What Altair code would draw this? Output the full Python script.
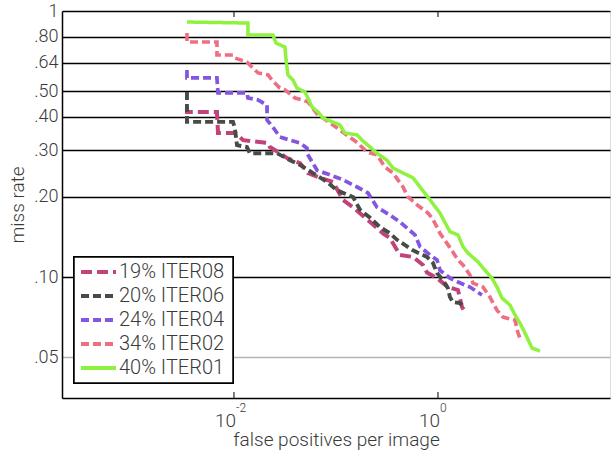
import altair as alt
import pandas as pd

labels = ["19% ITER08", "20% ITER06", "24% ITER04", "34% ITER02", "40% ITER01"]
colors = ["#c2437a", "#474c47", "#8455e0", "#ef6f82", "#8ff23e"]
dashes = [[11, 5], [8, 4], [8, 4], [8, 4], [1, 0]]
widths = [4, 3.5, 3, 3, 3.5]

iter08_fppi = [0.00346, 0.00346, 0.00681, 0.00697, 0.0102, 0.0123, 0.0216, 0.0225, 0.0282, 0.0331,
               0.0444, 0.0531, 0.0697, 0.0935, 0.117, 0.147, 0.180, 0.216, 0.252, 0.289,
               0.338, 0.424, 0.569, 0.713, 0.780, 0.978, 1.25, 1.57, 1.64, 1.72, 1.84]
iter08_miss = [0.436, 0.417, 0.417, 0.348, 0.348, 0.327, 0.319, 0.308, 0.292, 0.280,
               0.268, 0.246, 0.236, 0.228, 0.195, 0.183, 0.171, 0.161, 0.153, 0.146,
               0.140, 0.121, 0.119, 0.111, 0.104, 0.0991, 0.0917, 0.0894, 0.0834, 0.0771, 0.0738]

iter06_fppi = [0.00346, 0.00346, 0.00978, 0.0102, 0.0107, 0.0134, 0.0143, 0.0264, 0.0354, 0.0444,
               0.0595, 0.0816, 0.102, 0.147, 0.172, 0.216, 0.270, 0.338, 0.397, 0.569,
               0.780, 0.893, 0.978, 1.12, 1.25, 1.31, 1.40, 1.64, 1.84]
iter06_miss = [0.496, 0.383, 0.383, 0.363, 0.313, 0.308, 0.292, 0.292, 0.275, 0.264,
               0.246, 0.228, 0.212, 0.200, 0.179, 0.167, 0.154, 0.146, 0.138, 0.126,
               0.119, 0.113, 0.1035, 0.0974, 0.0909, 0.0841, 0.0805, 0.0798, 0.0764]

iter04_fppi = [0.00346, 0.00346, 0.00681, 0.00697, 0.0134, 0.0137, 0.0172, 0.0211, 0.0211, 0.0241,
               0.0282, 0.0354, 0.0444, 0.0520, 0.0520, 0.0652, 0.0874, 0.117, 0.161, 0.206,
               0.252, 0.338, 0.424, 0.595, 0.667, 0.835, 0.978, 1.046, 1.31, 1.57, 2.06, 2.70]
iter04_miss = [0.600, 0.560, 0.560, 0.492, 0.492, 0.471, 0.463, 0.443, 0.389, 0.366,
               0.336, 0.327, 0.319, 0.305, 0.292, 0.252, 0.242, 0.232, 0.218, 0.207,
               0.183, 0.171, 0.161, 0.144, 0.130, 0.121, 0.116, 0.106, 0.0991, 0.0958, 0.0917, 0.0856]

iter02_fppi = [0.00346, 0.00346, 0.00681, 0.00681, 0.00978, 0.0102, 0.0134, 0.0143, 0.0172, 0.0216,
               0.0236, 0.0282, 0.0316, 0.0396, 0.0475, 0.0531, 0.0667, 0.0746, 0.0935, 0.109,
               0.164, 0.201, 0.252, 0.302, 0.362, 0.454, 0.508, 0.622, 0.798, 0.873,
               0.978, 1.046, 1.31, 1.57, 1.76, 2.06, 2.20, 2.76, 3.23, 3.79,
               4.34, 5.69, 6.09, 6.37]
iter02_miss = [0.827, 0.765, 0.765, 0.683, 0.683, 0.666, 0.643, 0.627, 0.585, 0.575,
               0.550, 0.513, 0.505, 0.471, 0.463, 0.455, 0.406, 0.396, 0.373, 0.357,
               0.319, 0.295, 0.288, 0.259, 0.246, 0.218, 0.200, 0.187, 0.174, 0.167,
               0.154, 0.146, 0.129, 0.116, 0.111, 0.1017, 0.0949, 0.0917, 0.0841, 0.0751,
               0.0707, 0.0689, 0.0616, 0.0590]

iter01_fppi = [0.00346, 0.0137, 0.0137, 0.0241, 0.0258, 0.0316, 0.0324, 0.0338, 0.0379, 0.0415,
               0.0497, 0.0531, 0.0582, 0.0667, 0.0746, 0.109, 0.122, 0.161, 0.180, 0.216,
               0.252, 0.316, 0.362, 0.497, 0.569, 0.667, 0.835, 1.046, 1.31, 1.57,
               1.76, 1.97, 2.47, 3.02, 3.38, 3.79, 4.24, 5.08, 5.69, 6.37,
               7.13, 8.35, 10.0]
iter01_miss = [0.909, 0.901, 0.812, 0.812, 0.758, 0.732, 0.654, 0.575, 0.550, 0.513,
               0.496, 0.471, 0.436, 0.417, 0.396, 0.373, 0.348, 0.342, 0.327, 0.308,
               0.292, 0.275, 0.257, 0.242, 0.236, 0.218, 0.195, 0.174, 0.148, 0.144,
               0.130, 0.123, 0.114, 0.104, 0.0991, 0.0917, 0.0834, 0.0785, 0.0720, 0.0671,
               0.0616, 0.0541, 0.0527]

y_ticks = [0.05, 0.1, 0.2, 0.3, 0.4, 0.5, 0.64, 0.8, 1]
x_ticks = [0.01, 1]
x_tick_base = ["10", "10"]
x_tick_exp = ["-2", "0"]

series = [
    (labels[0], iter08_fppi, iter08_miss),
    (labels[1], iter06_fppi, iter06_miss),
    (labels[2], iter04_fppi, iter04_miss),
    (labels[3], iter02_fppi, iter02_miss),
    (labels[4], iter01_fppi, iter01_miss),
]
rows = []
for name, xs, ys in series:
    for i, (xv, yv) in enumerate(zip(xs, ys)):
        rows.append({"series": name, "fppi": xv, "miss": yv, "idx": i})
df = pd.DataFrame(rows)

ticks_df = pd.DataFrame({"fppi": x_ticks, "base": x_tick_base, "exp": x_tick_exp})
legend_df = pd.DataFrame({"series": labels, "row": list(range(len(labels)))})

FONT = "Roboto"
FW = 300
TXT = "#3a3a3a"
W, H = 548, 387

xscale = alt.Scale(type="log", domain=[0.000206, 48.6], nice=False)
yscale = alt.Scale(type="log", domain=[0.0351, 1], nice=False)
color_scale = alt.Scale(domain=labels, range=colors)
dash_scale = alt.Scale(domain=labels, range=dashes)
width_scale = alt.Scale(domain=labels, range=widths)

xaxis = alt.Axis(title="false positives per image", labels=False, ticks=False, grid=False,
                 domainColor="black", domainWidth=1.5, titleFont=FONT, titleFontSize=19,
                 titleFontWeight=FW, titleColor=TXT, titleBaseline="alphabetic", titleY=47)
x_enc = alt.X("fppi:Q", scale=xscale, axis=xaxis)

lines = alt.Chart(df).mark_line(clip=True, strokeCap="butt").encode(
    x=x_enc,
    y=alt.Y("miss:Q", scale=yscale, axis=alt.Axis(
        title="miss rate", values=y_ticks, grid=True,
        gridColor=alt.condition(alt.datum.value == 0.05, alt.value("#b4b4b4"), alt.value("black")),
        gridWidth=1.5, ticks=False, domainColor="black", domainWidth=1.5,
        labelExpr="datum.value == 1 ? '1' : replace(format(datum.value, '.2f'), '0.', '.')",
        labelFont=FONT, labelFontSize=18, labelFontWeight=FW, labelColor=TXT, labelPadding=4,
        labelOverlap=False, labelFlush=False,
        titleFont=FONT, titleFontSize=19, titleFontWeight=FW, titleColor=TXT,
        titleBaseline="alphabetic", titleX=-39)),
    color=alt.Color("series:N", scale=color_scale, legend=None),
    strokeDash=alt.StrokeDash("series:N", scale=dash_scale, legend=None),
    strokeWidth=alt.StrokeWidth("series:N", scale=width_scale, legend=None),
    order="idx:Q",
)

tick_bottom = alt.Chart(ticks_df).mark_rule(color="black", strokeWidth=1).encode(
    x=x_enc, y=alt.value(H), y2=alt.value(H - 6))
tick_top = alt.Chart(ticks_df).mark_rule(color="black", strokeWidth=1).encode(
    x=x_enc, y=alt.value(0), y2=alt.value(6))

base_txt = alt.Chart(ticks_df).mark_text(font=FONT, fontSize=19, fontWeight=FW, color=TXT,
                                         align="right", baseline="alphabetic", dx=2).encode(
    x=x_enc, y=alt.value(H + 29), text="base:N")
exp_txt = alt.Chart(ticks_df).mark_text(font=FONT, fontSize=12, fontWeight=FW, color=TXT,
                                        align="left", baseline="alphabetic", dx=2).encode(
    x=x_enc, y=alt.value(H + 14), text="exp:N")

# legend drawn by hand
leg_y = alt.Scale(domain=[0, 4], range=[261, 357])
leg_box = alt.Chart(legend_df).mark_rect(fill="white", stroke="black", strokeWidth=1.5).encode(
    x=alt.value(12), x2=alt.value(171), y=alt.value(246), y2=alt.value(372))
leg_lines = alt.Chart(legend_df).mark_rule(strokeCap="butt").encode(
    x=alt.value(19), x2=alt.value(54),
    y=alt.Y("row:Q", scale=leg_y, axis=None),
    color=alt.Color("series:N", scale=color_scale, legend=None),
    strokeDash=alt.StrokeDash("series:N", scale=dash_scale, legend=None),
    strokeWidth=alt.value(4),
)
leg_text = alt.Chart(legend_df).mark_text(font=FONT, fontSize=20, fontWeight=FW, color=TXT,
                                          align="left", baseline="middle", dx=0).encode(
    x=alt.value(57),
    y=alt.Y("row:Q", scale=leg_y, axis=None),
    text="series:N",
)

chart = alt.layer(lines, tick_bottom, tick_top, base_txt, exp_txt,
                  leg_box, leg_lines, leg_text).resolve_scale(y="independent").properties(
    width=W, height=H,
    autosize=alt.AutoSizeParams(type="none"),
    padding={"left": 62, "top": 11, "right": 1, "bottom": 54},
).configure_view(stroke=None).configure(background="white")

chart.save("out.html", embed_options={"renderer": "svg", "actions": False})
